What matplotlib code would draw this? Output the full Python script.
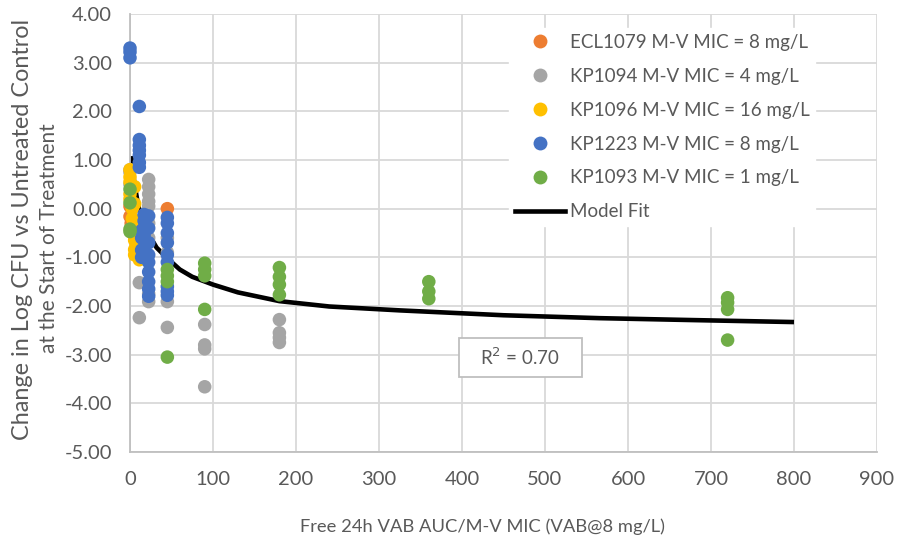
import matplotlib
matplotlib.use("Agg")
import matplotlib.pyplot as plt
from matplotlib.lines import Line2D
from matplotlib.patches import Rectangle

plt.rcParams['font.family'] = ['Lato', 'DejaVu Sans']

# ---------------- data ----------------
ecl1079_x = [0, 0, 1.4, 5.6, 11.25, 45]
ecl1079_y = [0.05, -0.16, -0.3, -0.5, -0.4, 0.0]

kp1094_x = [0, 0, 0, 22.5, 22.5, 22.5, 22.5, 22.5, 22.5, 22.5, 11.25, 11.25, 22.5, 22.5,
            45, 45, 45, 45, 90, 90, 90, 90, 180, 180, 180, 180]
kp1094_y = [0.8, 0.75, 0.5, 0.6, 0.45, 0.3, 0.15, 0.05, -0.3, -0.6, -1.52, -2.24, -1.91, -1.75,
            -0.6, -0.9, -1.91, -2.44, -2.38, -2.8, -2.88, -3.66, -2.28, -2.55, -2.65, -2.75]

kp1096_x = [0, 0, 0, 0, 0, 2.8, 2.8, 2.8, 5.6, 5.6, 5.6, 5.6, 5.6, 11.25, 11.25]
kp1096_y = [0.8, 0.65, 0.55, 0.3, 0.2, 0.0, -0.2, -0.5, 0.45, 0.1, -0.65, -0.84, -0.95, -0.4, -1.05]

kp1223_x = [0, 0, 0, 11.25, 11.25, 11.25, 11.25, 11.25, 11.25, 11.25,
            17, 17, 17, 17, 17,
            22.5, 22.5, 22.5, 22.5, 22.5, 22.5, 22.5, 22.5, 22.5,
            14, 14, 14, 14,
            45, 45, 45, 45, 45, 45, 45, 45, 45]
kp1223_y = [3.3, 3.22, 3.1, 2.1, 1.42, 1.3, 1.2, 1.1, 0.95, 0.85,
            -0.12, -0.25, -0.4, -0.55, -0.64,
            -0.15, -0.4, -0.7, -0.95, -1.1, -1.3, -1.5, -1.65, -1.8,
            -0.45, -0.6, -0.85, -1.0,
            -0.18, -0.3, -0.5, -0.7, -0.95, -1.1, -1.6, -1.7, -1.78]

kp1093_x = [0, 0, 0, 0, 45, 45, 45, 45, 90, 90, 90, 90, 180, 180, 180, 180,
            360, 360, 360, 720, 720, 720, 720]
kp1093_y = [0.4, 0.12, -0.42, -0.47, -1.25, -1.38, -1.5, -3.05, -1.12, -1.25, -1.38, -2.07,
            -1.21, -1.4, -1.56, -1.77, -1.5, -1.7, -1.85, -1.83, -1.93, -2.07, -2.7]

fit_x = [1.5, 5, 10, 20, 32, 45, 60, 75, 100, 130, 180, 240, 325, 450, 566, 680, 800]
fit_y = [1.08, 0.55, 0.05, -0.45, -0.8, -1.02, -1.25, -1.4, -1.56, -1.72, -1.9, -2.01,
         -2.09, -2.19, -2.25, -2.29, -2.33]

labels = ["ECL1079 M-V MIC = 8 mg/L", "KP1094 M-V MIC = 4 mg/L", "KP1096 M-V MIC = 16 mg/L",
          "KP1223 M-V MIC = 8 mg/L", "KP1093 M-V MIC = 1 mg/L"]
colors = ["#ED7D31", "#A5A5A5", "#FFC000", "#4472C4", "#70AD47"]
xticks = [0, 100, 200, 300, 400, 500, 600, 700, 800, 900]
yticks = [4, 3, 2, 1, 0, -1, -2, -3, -4, -5]

# ---------------- figure ----------------
W, H = 897, 545
fig = plt.figure(figsize=(W / 100, H / 100), dpi=100)
ax = fig.add_axes([130 / W, 1 - 452 / H, (877 - 130) / W, (452 - 14) / H])

txt = "#595959"
grid = "#D9D9D9"

ax.plot(fit_x, fit_y, color="black", lw=3.3, zorder=2, solid_capstyle="butt")

series = [(ecl1079_x, ecl1079_y), (kp1094_x, kp1094_y), (kp1096_x, kp1096_y),
          (kp1223_x, kp1223_y), (kp1093_x, kp1093_y)]
for (xs, ys), c in zip(series, colors):
    ax.scatter(xs, ys, s=95, color=c, edgecolors="none", zorder=3, clip_on=False)

ax.set_xlim(0, 900)
ax.set_ylim(-5, 4)
ax.set_xticks(xticks)
ax.set_yticks(yticks)
ax.set_yticklabels([f"{v:.2f}" for v in yticks])
ax.grid(True, color=grid, lw=1.3, zorder=0)
ax.set_axisbelow(True)
for s in ["top", "right"]:
    ax.spines[s].set_visible(False)
for s in ["left", "bottom"]:
    ax.spines[s].set_color("#BFBFBF")
    ax.spines[s].set_linewidth(1.3)
ax.tick_params(length=0, colors=txt, labelsize=14.5)
ax.tick_params(axis="y", pad=13)
ax.tick_params(axis="x", pad=14)

# R^2 box
ax.add_patch(Rectangle((396, -3.45), 148, 0.8, facecolor="white", edgecolor="#BFBFBF",
                       lw=1.3, zorder=4))
ax.text(470, -3.05, "R$^2$ = 0.70", ha="center", va="center", color=txt, fontsize=13.5, zorder=5)

# legend
handles = [Line2D([0], [0], marker="o", ls="none", markersize=10, markerfacecolor=c,
                  markeredgecolor="none") for c in colors]
handles.append(Line2D([0], [0], color="black", lw=3.3))
leg = ax.legend(handles, labels + ["Model Fit"], loc="upper left",
                bbox_to_anchor=(500 / W, 1 - 19 / H), bbox_transform=fig.transFigure,
                fontsize=13.5, frameon=True, fancybox=False, framealpha=1,
                edgecolor="white", facecolor="white", handlelength=2.65, handletextpad=0.28,
                labelspacing=0.9, borderpad=0.3)
for t in leg.get_texts():
    t.set_color(txt)

fig.text(482 / W, 1 - 527 / H, "Free 24h VAB AUC/M-V MIC (VAB@8 mg/L)", ha="center",
         va="center", color=txt, fontsize=13.2)
fig.text(23 / W, 1 - 440 / H, "Change in Log CFU vs Untreated Control", rotation=90,
         ha="center", va="bottom", color=txt, fontsize=16.8)
fig.text(49 / W, 1 - 238 / H, "at the Start of Treatment", rotation=90,
         ha="center", va="center", color=txt, fontsize=15)

fig.savefig("out.png", dpi=100, facecolor="white")
